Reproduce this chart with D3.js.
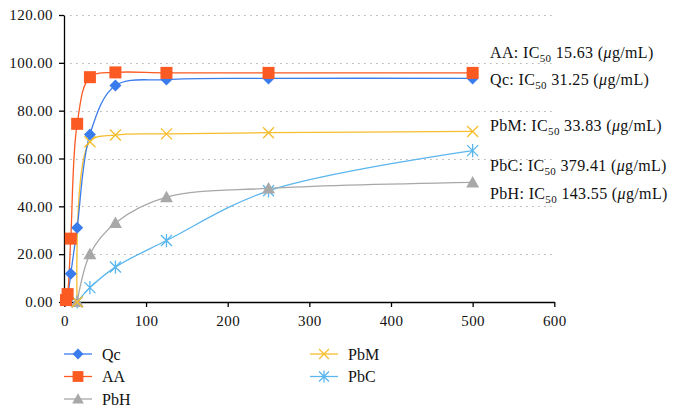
<!DOCTYPE html>
<html>
<head>
<meta charset="utf-8">
<script src="https://cdn.jsdelivr.net/npm/d3@7"></script>
<style>
html,body{margin:0;padding:0;background:#fff;}
svg{display:block;}
text{font-family:"Liberation Serif","Times New Roman",serif;fill:#111;}
</style>
</head>
<body>
<svg id="chart" width="673" height="414"></svg>
<script>
// ---- data ----
const concentrations = [1.95, 3.91, 7.81, 15.63, 31.25, 62.5, 125, 250, 500];
const qcValues  = [null, 1.0, 11.8, 31.0, 70.0, 90.5, 93.0, 93.5, 93.5];
const aaValues  = [0.8, 3.3, 26.5, 74.5, 94.0, 96.0, 95.8, 95.8, 95.8];
const pbhValues = [null, null, null, 0.0, 20.0, 33.0, 43.8, 47.5, 50.0];
const pbmValues = [null, null, null, 0.0, 67.0, 69.8, 70.3, 70.8, 71.3];
const pbcValues = [null, null, null, 0.0, 6.0, 14.6, 25.7, 46.5, 63.3];
const seriesNames = ["Qc", "AA", "PbH", "PbM", "PbC"];
const icLabels = [
  {name: "AA", ic: "15.63"},
  {name: "Qc", ic: "31.25"},
  {name: "PbM", ic: "33.83"},
  {name: "PbC", ic: "379.41"},
  {name: "PbH", ic: "143.55"}
];
const xTicks = [0, 100, 200, 300, 400, 500, 600];
const yTicks = [0, 20, 40, 60, 80, 100, 120];

// ---- styling ----
const colors = {Qc: "#3b7cec", AA: "#fb5a22", PbH: "#a8a8a8", PbM: "#f6bd2c", PbC: "#5ab6ef"};
const symbols = {Qc: "diamond", AA: "square", PbH: "triangle", PbM: "x", PbC: "asterisk"};
const valueMap = {Qc: qcValues, AA: aaValues, PbH: pbhValues, PbM: pbmValues, PbC: pbcValues};
const labelY = {AA: 58, Qc: 85, PbM: 131, PbC: 171, PbH: 199};

const svg = d3.select("#chart");
const x = d3.scaleLinear().domain([0, 600]).range([64.4, 554.3]);
const y = d3.scaleLinear().domain([0, 120]).range([302, 15]);

// gridlines
svg.append("g").selectAll("line").data(yTicks.filter(d => d > 0)).join("line")
  .attr("x1", x(0) + 6).attr("x2", x(600))
  .attr("y1", d => Math.round(y(d)) + 0.5).attr("y2", d => Math.round(y(d)) + 0.5)
  .attr("stroke", "#8a8a8a").attr("stroke-width", 1).attr("stroke-dasharray", "1,5");

// axes
const xAxis = d3.axisBottom(x).tickValues(xTicks).tickSize(5).tickSizeOuter(0).tickFormat(d3.format("d"));
const yAxis = d3.axisLeft(y).tickValues(yTicks).tickSize(5).tickSizeOuter(0).tickFormat(d3.format(".2f"));
const gx = svg.append("g").attr("transform", `translate(0,${Math.round(y(0))})`).call(xAxis);
const gy = svg.append("g").attr("transform", `translate(${Math.round(x(0))},0)`).call(yAxis);
[gx, gy].forEach(g => {
  g.attr("font-size", null).attr("font-family", null);
  g.selectAll("path,line").attr("stroke", "#000").attr("stroke-width", 1.3);
  g.selectAll("text").style("font-size", "15px").style("letter-spacing", "0.4px").attr("fill", "#111");
});
gx.selectAll("text").attr("dy", "1.05em");
gy.selectAll("text").attr("dx", "-3px");

// symbol drawing
function drawSymbol(g, type, cx, cy, color, scale = 1) {
  const s = scale;
  if (type === "diamond") {
    g.append("path").attr("d", `M${cx},${cy - 6 * s}L${cx + 6 * s},${cy}L${cx},${cy + 6 * s}L${cx - 6 * s},${cy}Z`).attr("fill", color);
  } else if (type === "square") {
    g.append("rect").attr("x", cx - 6 * s).attr("y", cy - 6 * s).attr("width", 12 * s).attr("height", 12 * s).attr("fill", color);
  } else if (type === "triangle") {
    g.append("path").attr("d", `M${cx},${cy - 6.5 * s}L${cx + 6.5 * s},${cy + 5 * s}L${cx - 6.5 * s},${cy + 5 * s}Z`).attr("fill", color);
  } else if (type === "x") {
    const r = 5.5 * s;
    g.append("path").attr("d", `M${cx - r},${cy - r}L${cx + r},${cy + r}M${cx - r},${cy + r}L${cx + r},${cy - r}`)
      .attr("stroke", color).attr("stroke-width", 1.3).attr("fill", "none");
  } else if (type === "asterisk") {
    const r = 5.5 * s;
    g.append("path").attr("d", `M${cx - r},${cy - r}L${cx + r},${cy + r}M${cx - r},${cy + r}L${cx + r},${cy - r}M${cx},${cy - r * 1.2}L${cx},${cy + r * 1.2}`)
      .attr("stroke", color).attr("stroke-width", 1.3).attr("fill", "none");
  }
}

// series lines
const line = d3.line().defined(d => d[1] !== null).x(d => x(d[0])).y(d => y(d[1])).curve(d3.curveCatmullRom.alpha(0.5));
const order = ["PbC", "PbH", "PbM", "Qc", "AA"];
order.forEach(name => {
  const pts = concentrations.map((c, i) => [c, valueMap[name][i]]).filter(d => d[1] !== null);
  svg.append("path").datum(pts).attr("d", line).attr("fill", "none").attr("stroke", colors[name]).attr("stroke-width", 1.3);
});
order.forEach(name => {
  const g = svg.append("g");
  concentrations.forEach((c, i) => {
    const v = valueMap[name][i];
    if (v !== null) drawSymbol(g, symbols[name], x(c), y(v), colors[name]);
  });
});

// IC50 labels
icLabels.forEach(l => {
  const t = svg.append("text").attr("x", 490).attr("y", labelY[l.name])
    .style("font-size", "16px").style("letter-spacing", "0.35px");
  t.append("tspan").text(`${l.name}: IC`);
  t.append("tspan").style("font-size", "11px").attr("dy", "4").text("50");
  t.append("tspan").attr("dy", "-4").text(` ${l.ic} (`);
  t.append("tspan").attr("font-style", "italic").text("μ");
  t.append("tspan").text("g/mL)");
});

// legend
const legendItems = [
  {name: "Qc", lx: 64, ly: 354},
  {name: "AA", lx: 64, ly: 376.5},
  {name: "PbH", lx: 64, ly: 399},
  {name: "PbM", lx: 310, ly: 354},
  {name: "PbC", lx: 310, ly: 376.5}
];
legendItems.forEach(it => {
  const g = svg.append("g");
  g.append("line").attr("x1", it.lx).attr("x2", it.lx + 28).attr("y1", it.ly).attr("y2", it.ly)
    .attr("stroke", colors[it.name]).attr("stroke-width", 1.3);
  drawSymbol(g, symbols[it.name], it.lx + 14, it.ly, colors[it.name], 0.9);
  g.append("text").attr("x", it.lx + 38).attr("y", it.ly + 5.5).style("font-size", "16px").text(it.name);
});
</script>
</body>
</html>
